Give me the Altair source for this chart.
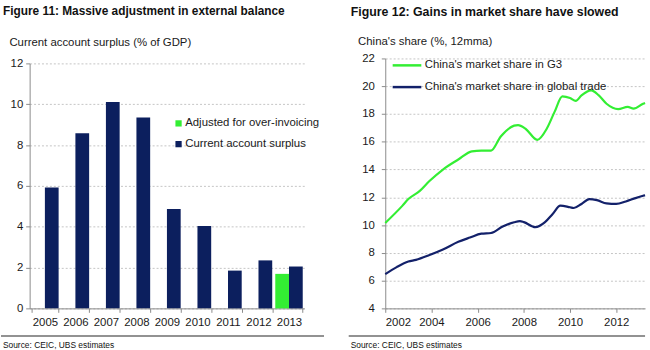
import altair as alt
import pandas as pd

# ---------------- data: Figure 11 ----------------
years = ["2005", "2006", "2007", "2008", "2009", "2010", "2011", "2012", "2013"]
surplus = [5.92, 8.58, 10.11, 9.35, 4.87, 4.03, 1.85, 2.35, 2.05]
adjusted_year = "2013"
adjusted_value = 1.69
bar_series = ["Adjusted for over-invoicing", "Current account surplus"]
bar_colors = ["#33ee33", "#0c1f5e"]

# ---------------- data: Figure 12 ----------------
g3_dates = ["2002-01", "2002-10", "2003-01", "2003-07", "2003-12", "2004-07", "2005-03",
            "2005-10", "2006-03", "2006-08", "2007-01", "2007-08", "2007-10", "2008-02",
            "2008-08", "2009-01", "2009-05", "2009-09", "2010-01", "2010-04", "2010-07",
            "2010-12", "2011-04", "2011-08", "2012-02", "2012-07", "2012-10", "2013-03",
            "2013-04"]
g3_values = [10.15, 11.40, 11.87, 12.46, 13.17, 14.00, 14.72, 15.31, 15.36, 15.36, 16.38,
             17.16, 17.20, 16.92, 16.14, 16.97, 18.15, 19.27, 19.15, 18.94, 19.34, 19.70,
             19.34, 18.74, 18.35, 18.51, 18.39, 18.74, 18.80]
world_dates = ["2002-01", "2002-07", "2003-01", "2003-05", "2003-12", "2004-07", "2005-03",
               "2005-09", "2006-03", "2006-08", "2007-02", "2007-08", "2007-11", "2008-01",
               "2008-07", "2008-12", "2009-04", "2009-08", "2010-01", "2010-03", "2010-07",
               "2010-11", "2011-03", "2011-08", "2012-01", "2012-06", "2012-11", "2013-03",
               "2013-04"]
world_values = [6.47, 6.97, 7.37, 7.49, 7.84, 8.24, 8.79, 9.10, 9.38, 9.43, 9.90, 10.20,
                10.28, 10.21, 9.85, 10.21, 10.80, 11.40, 11.28, 11.23, 11.52, 11.87, 11.80,
                11.56, 11.52, 11.70, 11.94, 12.11, 12.15]
line_series = ["China's market share in G3", "China's market share in global trade"]
line_colors = ["#33ee33", "#13216a"]

FONT = "Liberation Sans"
TXT = "#1a1a1a"
AX = "#8a8a8a"
GRID = "#c4c4c4"

rows = [{"year": y, "series": bar_series[1], "value": v} for y, v in zip(years, surplus)]
rows.append({"year": adjusted_year, "series": bar_series[0], "value": adjusted_value})
bars_df = pd.DataFrame(rows)

line_rows = [{"date": d + "-01T00:00:00", "value": v, "series": line_series[0]}
             for d, v in zip(g3_dates, g3_values)]
line_rows += [{"date": d + "-01T00:00:00", "value": v, "series": line_series[1]}
              for d, v in zip(world_dates, world_values)]
line_df = pd.DataFrame(line_rows)


def text_layer(txt, x, y, size, weight="normal", baseline="top"):
    return alt.Chart(pd.DataFrame({"t": [txt]})).mark_text(
        align="left", baseline=baseline, font=FONT, fontSize=size,
        fontWeight=weight, color="#111111"
    ).encode(x=alt.value(x), y=alt.value(y), text="t:N")


def rule_layer(x1, x2, y):
    return alt.Chart(pd.DataFrame({"a": [0]})).mark_rule(
        color="#6e6e6e", strokeWidth=1.5
    ).encode(x=alt.value(x1), x2=alt.value(x2), y=alt.value(y))


H = 253  # both panels share the same view height (top at y=56, bottom at y=309)

# ---------------- left panel ----------------
LW = 278
bars = alt.Chart(bars_df).mark_bar().encode(
    x=alt.X("year:N", sort=years,
            scale=alt.Scale(paddingInner=0.1, paddingOuter=0.05),
            axis=alt.Axis(title=None, labelAngle=0, labelFont=FONT, labelFontSize=11.5,
                          labelColor=TXT, domainColor=AX, tickColor=AX, tickSize=4,
                          tickBand="extent", labelPadding=4, grid=False)),
    xOffset=alt.XOffset("series:N", sort=bar_series, scale=alt.Scale(domain=bar_series)),
    y=alt.Y("value:Q", scale=alt.Scale(domain=[0, 12], range=[H, 5]),
            axis=alt.Axis(values=list(range(0, 13, 2)),
                          title="Current account surplus  (% of GDP)",
                          titleAngle=0, titleAlign="left", titleBaseline="alphabetic",
                          titleX=-21, titleY=-13, titleFont=FONT, titleFontSize=11.5,
                          titleFontWeight="normal", titleColor=TXT,
                          labelFont=FONT, labelFontSize=11.5, labelColor=TXT,
                          labelPadding=3, tickSize=4, tickColor=AX, domainColor=AX,
                          grid=True, gridColor=GRID, gridDash=[2, 2])),
    color=alt.Color("series:N",
                    scale=alt.Scale(domain=bar_series, range=bar_colors),
                    legend=alt.Legend(title=None, orient="none", legendX=145, legendY=60,
                                      symbolType="square", symbolSize=40,
                                      symbolStrokeWidth=0, labelFont=FONT,
                                      labelFontSize=11.5, labelColor=TXT, labelLimit=300,
                                      labelOffset=1, rowPadding=8, padding=0)),
)

left = alt.layer(
    bars,
    rule_layer(-29, 298, 281),
    text_layer("Figure 11: Massive adjustment in external balance", -27, -53, 12, "bold"),
    text_layer("Source:  CEIC, UBS estimates", -27, 290, 8.5, baseline="middle"),
).properties(width=LW, height=H)

# ---------------- right panel ----------------
RW = 263
lines = alt.Chart(line_df).mark_line(strokeWidth=2.2, interpolate="monotone").encode(
    x=alt.X("date:T",
            scale=alt.Scale(domain=[alt.DateTime(year=2002, month=1, date=1),
                                    alt.DateTime(year=2013, month=4, date=1)]),
            axis=alt.Axis(title=None, format="%Y",
                          values=[alt.DateTime(year=y, month=1, date=1) for y in range(2002, 2014, 2)],
                          labelFont=FONT, labelFontSize=11.5, labelColor=TXT,
                          domainColor=AX, tickColor=AX, tickSize=4, labelPadding=4,
                          grid=False)),
    y=alt.Y("value:Q", scale=alt.Scale(domain=[4, 22]),
            axis=alt.Axis(values=list(range(4, 23, 2)),
                          title="China's share  (%, 12mma)",
                          titleAngle=0, titleAlign="left", titleBaseline="alphabetic",
                          titleX=-28, titleY=-14, titleFont=FONT, titleFontSize=11.5,
                          titleFontWeight="normal", titleColor=TXT,
                          labelFont=FONT, labelFontSize=11.5, labelColor=TXT,
                          labelPadding=7, tickSize=4, tickColor=AX, domainColor=AX,
                          grid=True, gridColor=GRID, gridDash=[2, 2])),
    color=alt.Color("series:N", sort=line_series,
                    scale=alt.Scale(domain=line_series, range=line_colors),
                    legend=alt.Legend(title=None, orient="none", legendX=6, legendY=-9,
                                      symbolType="stroke", symbolSize=841,
                                      symbolStrokeWidth=2.5, labelFont=FONT,
                                      labelFontSize=11.5, labelColor=TXT, labelLimit=300,
                                      labelOffset=2, rowPadding=-14, padding=0)),
)

right = alt.layer(
    lines,
    rule_layer(-37, 263, 281),
    text_layer("Figure 12: Gains in market share have slowed", -35, -53, 12.5, "bold"),
    text_layer("Source:  CEIC, UBS estimates", -35, 290, 8.5, baseline="middle"),
).properties(width=RW, height=H)

chart = alt.hconcat(left, right, spacing=23).resolve_scale(color="independent").properties(
    padding={"left": 0, "top": 3, "right": 0, "bottom": 0},
    background="white",
).configure_view(stroke=None)

chart.save("out.html", embed_options={"renderer": "svg", "actions": False})
